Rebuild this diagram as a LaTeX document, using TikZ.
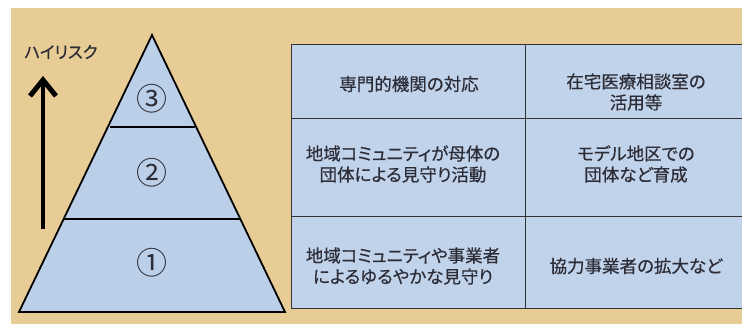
\documentclass[tikz,border=0pt]{standalone}
\usepackage{fontspec}
\setmainfont{Noto Sans CJK JP}
\newfontfamily\jptext{Noto Sans CJK JP}[RawFeature=+palt,FakeBold=0.5]
\usetikzlibrary{arrows.meta}
\definecolor{bg}{RGB}{232,204,150}
\definecolor{pyr}{RGB}{188,207,232}
\definecolor{cell}{RGB}{192,211,234}
\definecolor{txt}{RGB}{45,45,55}
\tikzset{
  celltext/.style={align=center,text=txt,font=\jptext\fontsize{17.5}{21}\selectfont,inner sep=0pt},
  numtext/.style={text=txt,font=\fontsize{31}{31}\selectfont,inner sep=0pt},
  pyrline/.style={line width=1.8pt,line join=miter},
  gridline/.style={line width=0.9pt,draw=black!80}
}
\begin{document}
\begin{tikzpicture}[x=1pt,y=-1pt]
\useasboundingbox (0,0) rectangle (742,324);
\fill[white] (0,0) rectangle (742,324);
\fill[bg] (11,8) rectangle (742,324);
% pyramid
\coordinate (apex) at (152,35);
\coordinate (bl) at (19,312);
\coordinate (br) at (285,312);
\coordinate (l1) at (110,127);
\coordinate (r1) at (195,127);
\coordinate (l2) at (64,219);
\coordinate (r2) at (241,219);
\filldraw[fill=pyr,pyrline] (apex) -- (br) -- (bl) -- cycle;
\draw[pyrline] (l1) -- (r1);
\draw[pyrline] (l2) -- (r2);
\node[numtext] (n3) at (152,99) {③};
\node[numtext] (n2) at (152,173) {②};
\node[numtext] (n1) at (152,263) {①};
% arrow
\coordinate (as) at (43,229);
\coordinate (at) at (43,76);
\draw[line width=4pt,-{Straight Barb[length=16pt,width=26pt,line width=5pt]}] (as) -- (at);
\node[text=txt,font=\jptext\fontsize{16.5}{16.5}\selectfont,inner sep=0pt] (hr) at (61,52) {ハイリスク};
% table
\fill[cell] (291,44) rectangle (742,308);
\draw[gridline] (742,44) -- (291,44) -- (291,308) -- (742,308);
\draw[gridline] (525,44) -- (525,308);
\draw[gridline] (291,118) -- (742,118);
\draw[gridline] (291,216) -- (742,216);
\node[celltext] (c11) at (409,84) {専門的機関の対応};
\node[celltext] (c12) at (636,92) {在宅医療相談室の\\活用等};
\node[celltext] (c21) at (403,164) {地域コミュニティが母体の\\団体による見守り活動};
\node[celltext] (c22) at (636,164) {モデル地区での\\団体など育成};
\node[celltext] (c31) at (403,266) {地域コミュニティや事業者\\によるゆるやかな見守り};
\node[celltext] (c32) at (636,266) {協力事業者の拡大など};
\end{tikzpicture}
\end{document}
